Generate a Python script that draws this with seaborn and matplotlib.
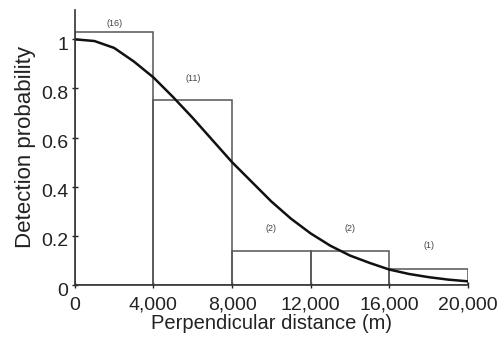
import matplotlib
matplotlib.use("Agg")
import matplotlib.pyplot as plt
from matplotlib.transforms import ScaledTranslation
import seaborn as sns
import numpy as np
import pandas as pd

# Data
bin_edges = [0, 4000, 8000, 12000, 16000, 20000]
bin_heights = [1.03, 0.755, 0.14, 0.14, 0.065]
bin_counts = ["(16)", "(11)", "(2)", "(2)", "(1)"]

curve_x = [0, 1000, 2000, 3000, 4000, 5000, 6000, 7000, 8000, 9000, 10000,
           11000, 12000, 13000, 14000, 15000, 16000, 17000, 18000, 19000, 20000]
curve_y = [1.0, 0.993, 0.965, 0.91, 0.845, 0.765, 0.68, 0.59, 0.50, 0.42, 0.34,
           0.27, 0.21, 0.16, 0.12, 0.09, 0.063, 0.045, 0.032, 0.022, 0.015]

x_ticks = [0, 4000, 8000, 12000, 16000, 20000]
x_tick_labels = ["0", "4,000", "8,000", "12,000", "16,000", "20,000"]
y_ticks = [0, 0.2, 0.4, 0.6, 0.8, 1.0]
y_tick_labels = ["0", "0.2", "0.4", "0.6", "0.8", "1"]

sns.set_theme(style="ticks")
plt.rcParams["font.family"] = ["Liberation Sans", "DejaVu Sans"]

fig = plt.figure(figsize=(5.02, 3.51), dpi=100)
ax = fig.add_axes([0.149, 0.188, 0.783, 0.784])

centers = [(a + b) / 2 for a, b in zip(bin_edges[:-1], bin_edges[1:])]
df_bins = pd.DataFrame({"x": centers, "w": bin_heights})
sns.histplot(data=df_bins, x="x", weights="w", bins=bin_edges, fill=False,
             element="bars", color="#555555", linewidth=1.1, ax=ax)

df_curve = pd.DataFrame({"x": curve_x, "y": curve_y})
sns.lineplot(data=df_curve, x="x", y="y", color="#111111", linewidth=1.8, ax=ax)

label_offsets = [0.035, 0.085, 0.09, 0.09, 0.095]
for c, h, lab, off in zip(centers, bin_heights, bin_counts, label_offsets):
    ax.text(c, h + off, lab, ha="center", va="center", fontsize=6.5, color="#444444")

ax.set_xlim(0, 20000)
ax.set_ylim(0, 1.12)
ax.set_xticks(x_ticks)
ax.set_xticklabels(x_tick_labels)
ax.set_yticks(y_ticks)
ax.set_yticklabels(y_tick_labels)
ax.tick_params(direction="inout", length=5, width=1, labelsize=14, colors="#222222")
ax.tick_params(axis="x", pad=6)
ax.tick_params(axis="y", pad=2)
shift = ScaledTranslation(0, -0.04, fig.dpi_scale_trans)
for lab in ax.get_yticklabels():
    lab.set_transform(lab.get_transform() + shift)
ax.set_xlabel("Perpendicular distance (m)", fontsize=14.5, color="#222222", labelpad=0)
ax.set_ylabel("Detection probability", fontsize=16, color="#222222", labelpad=4)
for s in ["top", "right"]:
    ax.spines[s].set_visible(False)
for s in ["left", "bottom"]:
    ax.spines[s].set_color("#333333")
    ax.spines[s].set_linewidth(1.2)

fig.savefig("out.png", dpi=100)
